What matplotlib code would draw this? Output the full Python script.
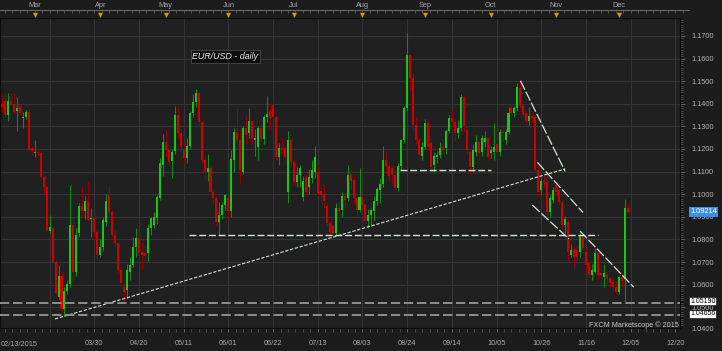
import numpy as np
import pandas as pd
import matplotlib
matplotlib.use('Agg')
import matplotlib.pyplot as plt
import matplotlib.transforms as mtrans
from matplotlib.ticker import FormatStrFormatter

plt.rcParams['font.family'] = ['Liberation Sans', 'DejaVu Sans']

# daily EUR/USD candles, 13 Feb 2015 .. 4 Dec 2015 (weekdays)
dates = pd.bdate_range('2015-02-13', '2015-12-04')

opens = [
    1.1400, 1.1414, 1.1350, 1.1414, 1.1399, 1.1369, 1.1391, 1.1335, 1.1340, 1.1365,
    1.1203, 1.1182, 1.1188, 1.1181, 1.1077, 1.1030, 1.0836, 1.0850, 1.0701, 1.0546,
    1.0638, 1.0490, 1.0573, 1.0601, 1.0863, 1.0657, 1.0830, 1.0947, 1.0927, 1.0971,
    1.0890, 1.0893, 1.0834, 1.0730, 1.0768, 1.0878, 1.0995, 1.0923, 1.0819, 1.0783,
    1.0665, 1.0591, 1.0576, 1.0657, 1.0687, 1.0768, 1.0805, 1.0746, 1.0741, 1.0738,
    1.0849, 1.0865, 1.0893, 1.0982, 1.1129, 1.1233, 1.1196, 1.1148, 1.1190, 1.1350,
    1.1269, 1.1196, 1.1159, 1.1213, 1.1358, 1.1409, 1.1446, 1.1321, 1.1151, 1.1097,
    1.1114, 1.1011, 1.0982, 1.0875, 1.0907, 1.0950, 1.0985, 1.0926, 1.1150, 1.1276,
    1.1240, 1.1100, 1.1291, 1.1270, 1.1324, 1.1240, 1.1210, 1.1291, 1.1246, 1.1342,
    1.1370, 1.1395, 1.1342, 1.1166, 1.1206, 1.1206, 1.1010, 1.1240, 1.1144, 1.1055,
    1.1085, 1.0989, 1.1077, 1.1031, 1.1070, 1.1098, 1.1100, 1.1013, 1.1000, 1.0946,
    1.0873, 1.0858, 1.0828, 1.0939, 1.0930, 1.0991, 1.0983, 1.1086, 1.1064, 1.0983,
    1.0932, 1.0986, 1.0953, 1.0880, 1.0906, 1.0924, 1.0968, 1.1020, 1.1045, 1.1153,
    1.1123, 1.1115, 1.1086, 1.1027, 1.1123, 1.1241, 1.1381, 1.1617, 1.1514, 1.1308,
    1.1241, 1.1170, 1.1210, 1.1314, 1.1228, 1.1130, 1.1163, 1.1174, 1.1210, 1.1203,
    1.1281, 1.1336, 1.1321, 1.1270, 1.1292, 1.1429, 1.1284, 1.1188, 1.1122, 1.1188,
    1.1233, 1.1188, 1.1233, 1.1247, 1.1181, 1.1188, 1.1222, 1.1188, 1.1277, 1.1240,
    1.1277, 1.1380, 1.1358, 1.1380, 1.1470, 1.1389, 1.1358, 1.1324, 1.1346, 1.1343,
    1.1107, 1.1019, 1.1058, 1.1052, 1.0923, 1.0974, 1.1041, 1.1019, 1.0967, 1.0864,
    1.0878, 1.0731, 1.0758, 1.0753, 1.0746, 1.0816, 1.0746, 1.0694, 1.0642, 1.0657,
    1.0738, 1.0650, 1.0635, 1.0642, 1.0628, 1.0613, 1.0591, 1.0569, 1.0635, 1.0625,
    1.0940]

highs = [
    1.1443, 1.1446, 1.1446, 1.1449, 1.1446, 1.1431, 1.1400, 1.1365, 1.1372, 1.1375,
    1.1215, 1.1240, 1.1200, 1.1190, 1.1085, 1.1040, 1.0908, 1.0860, 1.0710, 1.0686,
    1.0660, 1.0590, 1.0620, 1.1040, 1.0900, 1.0850, 1.0960, 1.1030, 1.0990, 1.1055,
    1.0937, 1.0900, 1.0840, 1.0800, 1.0900, 1.1000, 1.1035, 1.0930, 1.0840, 1.0790,
    1.0680, 1.0610, 1.0690, 1.0720, 1.0810, 1.0850, 1.0815, 1.0790, 1.0775, 1.0870,
    1.0900, 1.0920, 1.0995, 1.1160, 1.1265, 1.1290, 1.1220, 1.1200, 1.1390, 1.1390,
    1.1290, 1.1230, 1.1250, 1.1370, 1.1445, 1.1467, 1.1450, 1.1330, 1.1160, 1.1180,
    1.1130, 1.1020, 1.0990, 1.0967, 1.0965, 1.1003, 1.0990, 1.1195, 1.1291, 1.1380,
    1.1290, 1.1300, 1.1345, 1.1380, 1.1330, 1.1290, 1.1300, 1.1310, 1.1350, 1.1436,
    1.1400, 1.1420, 1.1350, 1.1225, 1.1250, 1.1215, 1.1278, 1.1250, 1.1155, 1.1120,
    1.1130, 1.1080, 1.1090, 1.1110, 1.1150, 1.1215, 1.1130, 1.1030, 1.1040, 1.0960,
    1.0885, 1.0870, 1.0960, 1.0970, 1.1010, 1.1000, 1.1131, 1.1110, 1.1080, 1.0990,
    1.1115, 1.1000, 1.0960, 1.0935, 1.0940, 1.0990, 1.1030, 1.1070, 1.1215, 1.1185,
    1.1140, 1.1130, 1.1110, 1.1140, 1.1245, 1.1390, 1.1713, 1.1620, 1.1530, 1.1340,
    1.1250, 1.1230, 1.1331, 1.1330, 1.1250, 1.1185, 1.1190, 1.1230, 1.1250, 1.1290,
    1.1350, 1.1373, 1.1330, 1.1330, 1.1443, 1.1440, 1.1300, 1.1195, 1.1220, 1.1260,
    1.1240, 1.1260, 1.1280, 1.1255, 1.1215, 1.1317, 1.1240, 1.1290, 1.1300, 1.1290,
    1.1385, 1.1402, 1.1390, 1.1490, 1.1495, 1.1400, 1.1370, 1.1387, 1.1360, 1.1350,
    1.1130, 1.1070, 1.1085, 1.1095, 1.0995, 1.1030, 1.1050, 1.1025, 1.0975, 1.0905,
    1.0890, 1.0780, 1.0770, 1.0770, 1.0830, 1.0830, 1.0760, 1.0710, 1.0690, 1.0760,
    1.0745, 1.0690, 1.0690, 1.0660, 1.0640, 1.0625, 1.0620, 1.0640, 1.0650, 1.0979,
    1.0955]

lows = [
    1.1370, 1.1342, 1.1325, 1.1392, 1.1360, 1.1281, 1.1350, 1.1291, 1.1332, 1.1190,
    1.1180, 1.1166, 1.1170, 1.1070, 1.1000, 1.0835, 1.0827, 1.0690, 1.0555, 1.0535,
    1.0485, 1.0462, 1.0560, 1.0590, 1.0613, 1.0640, 1.0810, 1.0900, 1.0890, 1.0880,
    1.0812, 1.0800, 1.0712, 1.0720, 1.0750, 1.0860, 1.0910, 1.0810, 1.0770, 1.0650,
    1.0585, 1.0521, 1.0540, 1.0620, 1.0680, 1.0720, 1.0710, 1.0668, 1.0700, 1.0705,
    1.0820, 1.0850, 1.0870, 1.0975, 1.1080, 1.1165, 1.1125, 1.1070, 1.1180, 1.1250,
    1.1190, 1.1140, 1.1140, 1.1200, 1.1340, 1.1385, 1.1300, 1.1140, 1.1070, 1.1060,
    1.0995, 1.0960, 1.0865, 1.0819, 1.0890, 1.0930, 1.0890, 1.0900, 1.1100, 1.1200,
    1.1050, 1.1090, 1.1220, 1.1250, 1.1220, 1.1170, 1.1150, 1.1230, 1.1220, 1.1320,
    1.1290, 1.1330, 1.1150, 1.1130, 1.1180, 1.1130, 1.0960, 1.1130, 1.1040, 1.1030,
    1.1030, 1.0970, 1.0990, 1.1000, 1.1050, 1.1070, 1.0990, 1.0960, 1.0940, 1.0860,
    1.0820, 1.0808, 1.0815, 1.0880, 1.0900, 1.0940, 1.0970, 1.1020, 1.0960, 1.0900,
    1.0920, 1.0930, 1.0870, 1.0850, 1.0860, 1.0880, 1.0950, 1.0960, 1.1030, 1.1090,
    1.1060, 1.1050, 1.1015, 1.1015, 1.1105, 1.1225, 1.1370, 1.1460, 1.1290, 1.1220,
    1.1155, 1.1150, 1.1200, 1.1200, 1.1100, 1.1100, 1.1140, 1.1160, 1.1180, 1.1180,
    1.1270, 1.1300, 1.1230, 1.1250, 1.1280, 1.1280, 1.1180, 1.1090, 1.1100, 1.1170,
    1.1150, 1.1170, 1.1210, 1.1150, 1.1160, 1.1150, 1.1160, 1.1170, 1.1230, 1.1220,
    1.1265, 1.1340, 1.1340, 1.1370, 1.1380, 1.1340, 1.1310, 1.1300, 1.1320, 1.1100,
    1.0990, 1.0995, 1.1030, 1.0900, 1.0900, 1.0960, 1.0990, 1.0950, 1.0850, 1.0830,
    1.0705, 1.0720, 1.0675, 1.0710, 1.0720, 1.0740, 1.0660, 1.0630, 1.0620, 1.0650,
    1.0620, 1.0600, 1.0590, 1.0600, 1.0590, 1.0570, 1.0560, 1.0560, 1.0590, 1.0524,
    1.0911]

closes = [
    1.1384, 1.1350, 1.1414, 1.1399, 1.1365, 1.1380, 1.1358, 1.1342, 1.1365, 1.1195,
    1.1190, 1.1186, 1.1181, 1.1077, 1.1030, 1.0841, 1.0856, 1.0701, 1.0561, 1.0638,
    1.0490, 1.0573, 1.0601, 1.0863, 1.0657, 1.0819, 1.0947, 1.0927, 1.0971, 1.0888,
    1.0895, 1.0834, 1.0730, 1.0768, 1.0886, 1.0971, 1.0923, 1.0819, 1.0783, 1.0665,
    1.0606, 1.0569, 1.0665, 1.0687, 1.0768, 1.0805, 1.0738, 1.0731, 1.0727, 1.0849,
    1.0893, 1.0900, 1.0989, 1.1137, 1.1233, 1.1196, 1.1144, 1.1188, 1.1350, 1.1269,
    1.1210, 1.1159, 1.1213, 1.1358, 1.1409, 1.1446, 1.1321, 1.1151, 1.1100, 1.1117,
    1.1011, 1.0982, 1.0875, 1.0907, 1.0952, 1.0996, 1.0926, 1.1156, 1.1276, 1.1240,
    1.1107, 1.1291, 1.1262, 1.1324, 1.1245, 1.1250, 1.1291, 1.1246, 1.1342, 1.1357,
    1.1336, 1.1342, 1.1166, 1.1206, 1.1200, 1.1166, 1.1240, 1.1144, 1.1055, 1.1085,
    1.1114, 1.1058, 1.1011, 1.1077, 1.1105, 1.1165, 1.1000, 1.0998, 1.0968, 1.0873,
    1.0833, 1.0828, 1.0939, 1.0924, 1.0991, 1.0976, 1.1086, 1.1057, 1.0983, 1.0932,
    1.0986, 1.0953, 1.0881, 1.0908, 1.0932, 1.0968, 1.1023, 1.1045, 1.1153, 1.1123,
    1.1079, 1.1086, 1.1027, 1.1123, 1.1241, 1.1381, 1.1617, 1.1514, 1.1308, 1.1241,
    1.1175, 1.1210, 1.1317, 1.1210, 1.1122, 1.1168, 1.1174, 1.1203, 1.1196, 1.1281,
    1.1336, 1.1321, 1.1270, 1.1292, 1.1432, 1.1300, 1.1196, 1.1122, 1.1196, 1.1233,
    1.1181, 1.1247, 1.1247, 1.1166, 1.1196, 1.1207, 1.1188, 1.1274, 1.1270, 1.1277,
    1.1358, 1.1358, 1.1380, 1.1476, 1.1390, 1.1352, 1.1324, 1.1346, 1.1339, 1.1107,
    1.1011, 1.1058, 1.1048, 1.0923, 1.0982, 1.1019, 1.1011, 1.0967, 1.0864, 1.0890,
    1.0746, 1.0753, 1.0724, 1.0724, 1.0816, 1.0760, 1.0687, 1.0642, 1.0665, 1.0738,
    1.0642, 1.0642, 1.0650, 1.0628, 1.0606, 1.0591, 1.0569, 1.0635, 1.0616, 1.0940,
    1.09214]

current_price = 1.09214
support_levels = [1.05190, 1.04656]

# drawn lines, as (bar index, price) end points
trend_line = [(17.8, 1.0448), (189.0, 1.1112)]
flat_lines = [(133.6, 164.1, 1.1105), (62.8, 200.0, 1.0818)]
channel_lines = [
    [(174.0, 1.1502), (189.0, 1.1101)],
    [(179.7, 1.1141), (195.0, 1.0919)],
    [(178.0, 1.0952), (190.3, 1.0802)],
    [(194.0, 1.0837), (212.0, 1.0589)],
]

W, H = 722, 351
BG = '#1c1c1c'
fig = plt.figure(figsize=(W / 100, H / 100), dpi=100, facecolor=BG)

# plot area: px 0..680 wide, 18..327.5 high, 2.98 px per bar
px_bar = 2.98
x0 = -1.9 / px_bar
ax = fig.add_axes([0, (H - 327.5) / H, 680 / W, (327.5 - 18) / H], facecolor='#202020')
ax.set_xlim(x0, x0 + 680 / px_bar)
ax.set_ylim(1.04102, 1.17796)

for s in ax.spines.values():
    s.set_color('#0a0a0a')
    s.set_linewidth(0.8)

# grid
for i in range(16, 228, 15):
    ax.axvline(i, color='#343434', lw=0.8, zorder=1)
for p in np.arange(1.05, 1.175, 0.01):
    ax.axhline(p, color='#343434', lw=0.8, zorder=1)

# candles
o, h, l, c = map(np.array, (opens, highs, lows, closes))
x = np.arange(len(c))
up = c >= o
body_col = np.where(up, '#14c814', '#d10000')
wick_col = np.where(up, '#118a11', '#960000')
ax.vlines(x, np.minimum(l, np.minimum(o, c)), np.maximum(h, np.maximum(o, c)),
          colors=wick_col, lw=0.75, zorder=3)
ax.bar(x, np.maximum(np.abs(c - o), 0.00025), bottom=np.minimum(o, c), width=0.68,
       color=body_col, linewidth=0, zorder=4)

# lines drawn on the chart
LC = '#d2e6d2'
(ta, tb) = trend_line
ax.plot([ta[0], tb[0]], [ta[1], tb[1]], color=LC, lw=0.8, dashes=(3, 1.5), zorder=5)
for a, b, p in flat_lines:
    ax.plot([a, b], [p, p], color=LC, lw=1.0, dashes=(5, 2), zorder=5)
for (pa, pb) in channel_lines:
    ax.plot([pa[0], pb[0]], [pa[1], pb[1]], color=LC, lw=0.9, dashes=(8, 1.8), zorder=5)
for lvl in support_levels:
    ax.axhline(lvl, color='#8e8e8e', lw=1.4, dashes=(4.8, 1.9), zorder=5)

# right price axis
ax.yaxis.tick_right()
ax.set_yticks(np.round(np.arange(1.05, 1.175, 0.01), 2))
ax.yaxis.set_major_formatter(FormatStrFormatter('%.4f'))
ax.set_yticks(np.arange(1.042, 1.178, 0.001), minor=True)
ax.tick_params(axis='y', which='major', length=3.6, width=0.6, color='#6e6e6e',
               pad=4.3, labelsize=5.3, labelcolor='#b4b4b4')
ax.tick_params(axis='y', which='minor', length=2, width=0.5, color='#5a5a5a')
ytrans = mtrans.blended_transform_factory(ax.transAxes, ax.transData)
ax.text(691 / 680, 1.04, '1.0400', transform=ytrans, ha='left', va='center',
        fontsize=5.3, color='#b4b4b4')

# price boxes
ax.text(690 / 680, current_price, f'{current_price:.5f}', transform=ytrans, ha='left',
        va='center', fontsize=5.3, color='#ffffff', zorder=10,
        bbox=dict(boxstyle='square,pad=0.15', fc='#3d8fe6', ec='none'))
box_pos = [1.05260, 1.04700]
for lvl, yb in zip(support_levels, box_pos):
    ax.text(690 / 680, yb, f'{lvl:.5f}', transform=ytrans, ha='left', va='center',
            fontsize=5.0, color='#000000', zorder=10,
            bbox=dict(boxstyle='square,pad=0.08', fc='#ffffff', ec='#000000', lw=0.4))

# bottom date axis
last = dates[-1]
tick_idx = list(range(31, 228, 15))
tick_lab = []
for i in tick_idx:
    d = dates[i] if i < len(dates) else last + pd.Timedelta(days=i - (len(dates) - 1))
    tick_lab.append(d.strftime('%m/%d'))
ax.set_xticks(tick_idx)
ax.set_xticklabels(tick_lab)
ax.set_xticks(np.arange(1, 228, 2.5), minor=True)
ax.tick_params(axis='x', which='major', length=3, width=0.6, color='#6a6a6a', pad=6,
               labelsize=5.3, labelcolor='#a8a8a8')
ax.tick_params(axis='x', which='minor', length=3, width=0.5, color='#5a5a5a')
fig.text(1 / W, 1 - 344 / H, dates[0].strftime('%m/%d/%Y'), ha='left', va='center',
         fontsize=5.3, color='#a8a8a8')

# top month strip
top = fig.add_axes([0, (H - 18) / H, 689 / W, 8 / H], facecolor=BG)
top.set_xlim(x0, x0 + 689 / px_bar)
top.set_ylim(0, 1)
for s in ['bottom', 'left', 'right']:
    top.spines[s].set_visible(False)
top.spines['top'].set_color('#6a6a6a')
top.spines['top'].set_linewidth(0.8)
top.xaxis.set_ticks_position('top')
top.set_xticks(np.arange(1, 231, 2.5))
top.tick_params(axis='x', direction='in', length=2.2, width=0.5, color='#6a6a6a',
                labeltop=False)
top.set_yticks([])
month_idx = [i for i in range(1, len(dates)) if dates[i].month != dates[i - 1].month]
top.scatter(month_idx, [0.42] * len(month_idx), marker='v', s=16, color='#d49a1c',
            edgecolors='#3a2a00', linewidths=0.3, clip_on=False, zorder=5)
for i in month_idx:
    top.text(i, 1.55, dates[i].strftime('%b'), ha='center', va='center',
             fontsize=5.3, color='#a8a8a8')

# title box and copyright
fig.text(225.5 / W, 1 - 56.2 / H, 'EUR/USD - daily', style='italic', fontsize=6.4,
         color='#e6e6e6', ha='center', va='center',
         bbox=dict(boxstyle='square,pad=0.22', fc='#0e0e0e', ec='#4a4a4a', lw=0.6))
fig.text(679 / W, 1 - 325.2 / H, 'FXCM Marketscope \u00a9 2015', ha='right', va='center',
         fontsize=5.2, color='#c8c8c8')

fig.savefig('out.png', dpi=100, facecolor=BG)
